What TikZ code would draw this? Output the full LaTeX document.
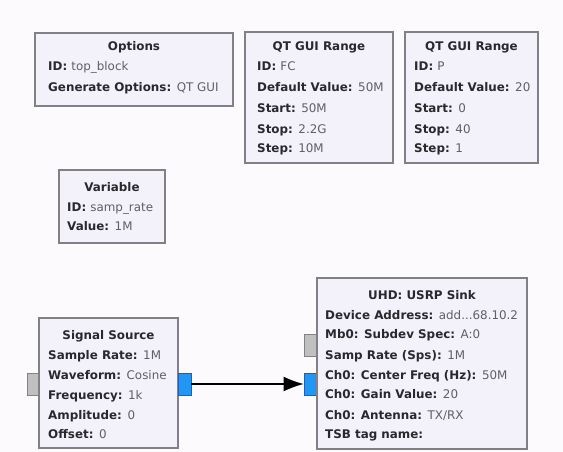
\documentclass[tikz,border=0pt]{standalone}
\usepackage{fontspec}
\setmainfont{DejaVu Sans}
\usetikzlibrary{arrows.meta}
\definecolor{bgc}{RGB}{252,250,252}
\definecolor{boxfill}{RGB}{243,241,250}
\definecolor{boxline}{RGB}{128,128,134}
\definecolor{labc}{RGB}{40,40,45}
\definecolor{valc}{RGB}{95,95,104}
\definecolor{portgray}{RGB}{192,192,192}
\definecolor{portgrayline}{RGB}{130,130,130}
\definecolor{portblue}{RGB}{33,150,243}
\definecolor{portblueline}{RGB}{20,100,190}
\newcommand\kvpair[2]{{\bfseries\color{labc}#1 }{\color{valc}#2}}
\tikzset{
  blk/.style={draw=boxline, fill=boxfill, line width=1.2pt, inner sep=0pt},
  txt/.style={anchor=base west, inner sep=0pt, font=\fontsize{11.9}{14}\selectfont},
  ttl/.style={anchor=base, inner sep=0pt, text=labc, font=\fontsize{11.9}{14}\selectfont\bfseries},
  gport/.style={draw=portgrayline, fill=portgray, line width=0.8pt, inner sep=0pt, minimum width=12pt, minimum height=22pt},
  bport/.style={draw=portblueline, fill=portblue, line width=0.8pt, inner sep=0pt, minimum width=13pt, minimum height=22pt},
  conn/.style={draw=black, line width=1.1pt, -{Latex[length=20pt,width=15pt]}}
}
\begin{document}
\begin{tikzpicture}[x=1pt,y=-1pt]
\fill[bgc] (0,0) rectangle (563,452);
\useasboundingbox (0,0) rectangle (563,452);

% Options
\node[blk, minimum width=198pt, minimum height=73pt] (opt) at (134,69.5) {};
\node[ttl] (optT) at (134,51) {Options};
\node[txt] (optA) at (48,71) {\kvpair{ID:}{top\_block}};
\node[txt] (optB) at (48,92) {\kvpair{Generate Options:}{QT GUI}};

% QT GUI Range FC
\node[blk, minimum width=148pt, minimum height=131pt] (rfc) at (319,97.5) {};
\node[ttl] (rfcT) at (319,51) {QT GUI Range};
\node[txt] (rfcA) at (257,71) {\kvpair{ID:}{FC}};
\node[txt] (rfcB) at (257,92) {\kvpair{Default Value:}{50M}};
\node[txt] (rfcC) at (257,112.5) {\kvpair{Start:}{50M}};
\node[txt] (rfcD) at (257,133) {\kvpair{Stop:}{2.2G}};
\node[txt] (rfcE) at (257,153) {\kvpair{Step:}{10M}};

% QT GUI Range P
\node[blk, minimum width=133pt, minimum height=131pt] (rp) at (471.5,97.5) {};
\node[ttl] (rpT) at (471.5,51) {QT GUI Range};
\node[txt] (rpA) at (414,71) {\kvpair{ID:}{P}};
\node[txt] (rpB) at (414,92) {\kvpair{Default Value:}{20}};
\node[txt] (rpC) at (414,112.5) {\kvpair{Start:}{0}};
\node[txt] (rpD) at (414,133) {\kvpair{Stop:}{40}};
\node[txt] (rpE) at (414,153) {\kvpair{Step:}{1}};

% Variable
\node[blk, minimum width=106pt, minimum height=73pt] (var) at (112,206.5) {};
\node[ttl] (varT) at (112,191) {Variable};
\node[txt] (varA) at (67,211) {\kvpair{ID:}{samp\_rate}};
\node[txt] (varB) at (67,230) {\kvpair{Value:}{1M}};

% Signal Source
\node[gport] (sigin) at (33,384.5) {};
\node[blk, minimum width=139pt, minimum height=130pt] (sig) at (108.5,383) {};
\node[bport] (sigout) at (184.5,384) {};
\node[ttl] (sigT) at (108.5,339) {Signal Source};
\node[txt] (sigA) at (48,359) {\kvpair{Sample Rate:}{1M}};
\node[txt] (sigB) at (48,379) {\kvpair{Waveform:}{Cosine}};
\node[txt] (sigC) at (48,399) {\kvpair{Frequency:}{1k}};
\node[txt] (sigD) at (48,419) {\kvpair{Amplitude:}{0}};
\node[txt] (sigE) at (48,438) {\kvpair{Offset:}{0}};

% USRP Sink
\node[gport] (usin1) at (310.5,345.5) {};
\node[bport] (usin2) at (310.5,384) {};
\node[blk, minimum width=210pt, minimum height=171pt] (usrp) at (422,363.5) {};
\node[ttl] (usT) at (422,299) {UHD: USRP Sink};
\node[txt] (usA) at (325,319) {\kvpair{Device Address:}{add...68.10.2}};
\node[txt] (usB) at (325,338) {\kvpair{Mb0: Subdev Spec:}{A:0}};
\node[txt] (usC) at (325,359) {\kvpair{Samp Rate (Sps):}{1M}};
\node[txt] (usD) at (325,379) {\kvpair{Ch0: Center Freq (Hz):}{50M}};
\node[txt] (usE) at (325,398) {\kvpair{Ch0: Gain Value:}{20}};
\node[txt] (usF) at (325,419) {\kvpair{Ch0: Antenna:}{TX/RX}};
\node[txt] (usG) at (325,438) {\kvpair{TSB tag name:}{}};

\draw[conn] (sigout.east) -- (usin2.west);
\end{tikzpicture}
\end{document}
